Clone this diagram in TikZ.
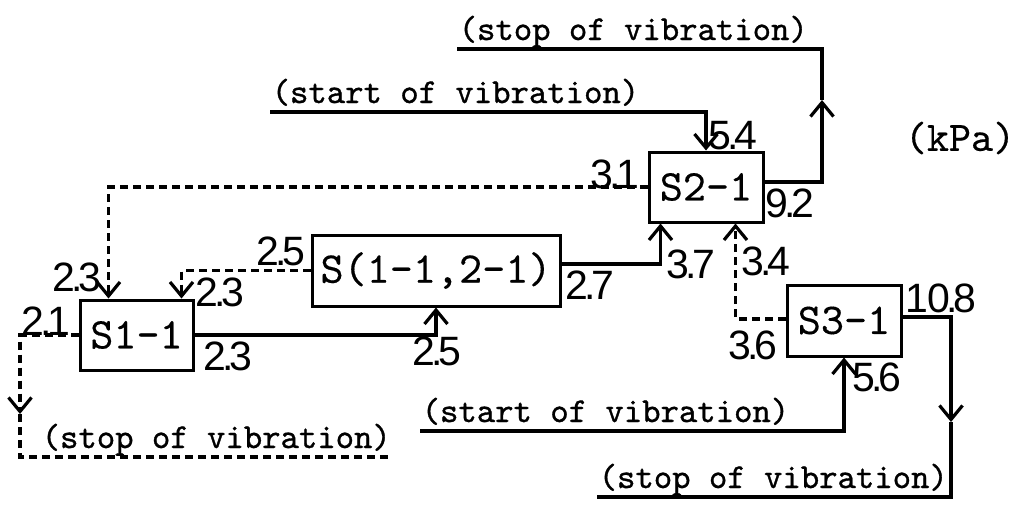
\documentclass[tikz,border=0pt]{standalone}
\usepackage{fontspec}
\newfontfamily\numfont{Liberation Sans}
\newfontfamily\twfont{lmmono10-regular}[Extension=.otf,FakeBold=0.9]
\newfontfamily\twreg{lmmono10-regular}[Extension=.otf,FakeBold=0.3]
\usetikzlibrary{arrows.meta,calc}
\newcommand{\nm}[2]{#1\kern-4pt.\kern-4pt#2}
\begin{document}
\begin{tikzpicture}[x=1pt,y=-1pt,
  line width=3.4pt,
  arr/.style={-{Straight Barb[length=14pt,width=23pt,line width=3.2pt]}},
  dsh/.style={dash pattern=on 8pt off 5pt},
  boxnode/.style={draw,line width=3pt,inner sep=0pt,font=\twreg\fontsize{44}{48}\selectfont},
  lbl/.style={inner sep=0pt,anchor=base west,font=\twfont\fontsize{35}{40}\selectfont},
  num/.style={inner sep=0pt,font=\numfont\fontsize{41}{45}\selectfont}]
\useasboundingbox[fill=white] (0,0) rectangle (1024,506);

% boxes
\node[boxnode,minimum width=113pt,minimum height=70pt] (s11) at (136.5,335) {S1-1};
\node[boxnode,minimum width=248pt,minimum height=71pt] (s12) at (436,270.5) {S(1-1,2-1)};
\node[boxnode,minimum width=114pt,minimum height=70pt] (s21) at (706,187) {S2-1};
\node[boxnode,minimum width=114pt,minimum height=71pt] (s31) at (844,320.5) {S3-1};

% texts
\node[lbl] (tstop) at (457,40) {(stop of vibration)};
\node[lbl] (tstart) at (270,103) {(start of vibration)};
\node[lbl] (lstop) at (40,448) {(stop of vibration)};
\node[lbl] (bstart) at (420,422) {(start of vibration)};
\node[lbl] (bstop) at (597,488) {(stop of vibration)};
\node[inner sep=0pt,font=\twreg\fontsize{42}{46}\selectfont] (kpa) at (960,138) {(kPa)};

% numbers
\node[num] (n1) at (77,277) {\nm{2}{3}};
\node[num] (n2) at (220,292) {\nm{2}{3}};
\node[num] (n3) at (281,251) {\nm{2}{5}};
\node[num] (n4) at (46,321) {\nm{2}{1}};
\node[num] (n5) at (228,356) {\nm{2}{3}};
\node[num] (n6) at (437,351) {\nm{2}{5}};
\node[num] (n7) at (590,285) {\nm{2}{7}};
\node[num] (n8) at (691,264) {\nm{3}{7}};
\node[num] (n9) at (766,261) {\nm{3}{4}};
\node[num] (n10) at (753,345) {\nm{3}{6}};
\node[num] (n11) at (877,377) {\nm{5}{6}};
\node[num] (n12) at (941,298) {1\kern-1pt\nm{0}{8}};
\node[num] (n13) at (733,136) {\nm{5}{4}};
\node[num] (n14) at (615,174) {\nm{3}{1}};
\node[num] (n15) at (790,203) {\nm{9}{2}};

% coordinates
\coordinate (a1) at (20,414);
\coordinate (a2) at (822,100);
\coordinate (a3) at (951,422);
\coordinate (ts) at (270,112);
\coordinate (bs) at (420,431);

% connectors
\draw[arr] (s11.east) -| (s12.south);
\draw[arr,dsh] (s12.west) -| ($(s11.north east)+(-13,0)$);
\draw[arr,dsh] (s21.west) -| ($(s11.north west)+(30,0)$);
\draw[arr,dsh] (s11.west) -| (a1);
\draw[dsh] (a1) -- (20,457) -- (390,457);
\draw[arr] ($(s12.east)+(0,-6.5)$) -| ($(s21.south west)+(13,0)$);
\draw[arr,dsh] ($(s31.west)+(0,-1.5)$) -| ($(s21.south west)+(88,0)$);
\draw[arr] (ts) -| (s21.north);
\draw[arr] ($(s21.east)+(0,-5)$) -| (a2);
\draw (a2) -- (822,49) -- (457,49);
\draw[arr] (bs) -| (s31.south);
\draw[arr] ($(s31.east)+(0,-3.5)$) -| (a3);
\draw (a3) -- (951,497) -- (597,497);
\end{tikzpicture}
\end{document}
